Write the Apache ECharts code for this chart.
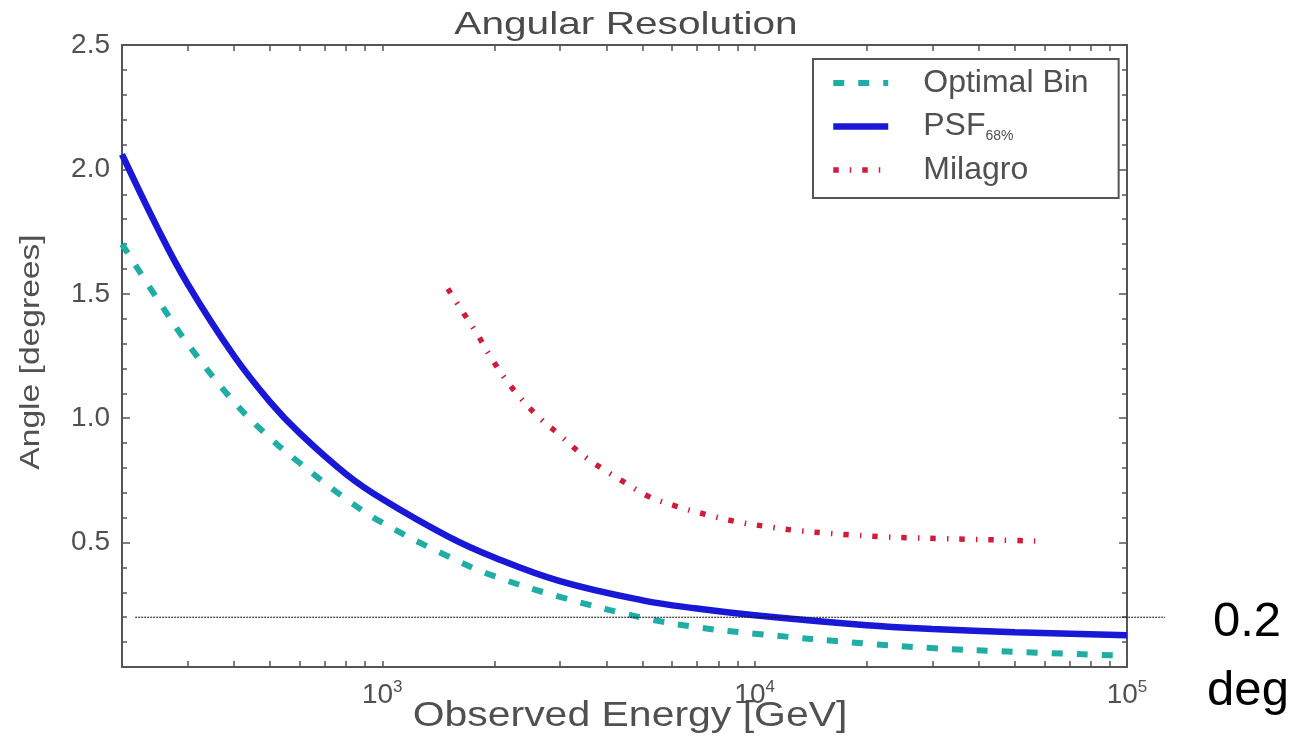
<!DOCTYPE html>
<html>
<head>
<meta charset="utf-8">
<title>Angular Resolution</title>
<script src="https://cdn.jsdelivr.net/npm/echarts@6/dist/echarts.min.js"></script>
<style>
  html, body { margin: 0; padding: 0; background: #fff; }
  #chart { width: 1291px; height: 751px; }
</style>
</head>
<body>
<div id="chart"></div>
<script>
// Energies in GeV and angular resolution in degrees
const binEnergy = [200, 250, 300, 400, 500, 600, 800, 1000, 1500, 2000, 3000, 5000, 7000, 10000, 20000, 30000, 50000, 100000];
const optimalBin = [1.70, 1.475, 1.30, 1.065, 0.92, 0.82, 0.675, 0.58, 0.445, 0.365, 0.282, 0.198, 0.16, 0.134, 0.094, 0.076, 0.061, 0.045];
const psf68 = [2.06, 1.76, 1.54, 1.25, 1.065, 0.94, 0.775, 0.675, 0.525, 0.44, 0.345, 0.268, 0.235, 0.208, 0.168, 0.153, 0.14, 0.128];

const milagroEnergy = [1500, 1650, 1800, 1950, 2130, 2340, 2650, 3000, 3400, 3900, 4500, 5200, 6200, 7400, 8800, 10600, 12700, 15300, 18500, 22200, 26700, 32000, 38700, 46500, 57000];
const milagro = [1.52, 1.424, 1.337, 1.249, 1.162, 1.085, 1.0, 0.932, 0.86, 0.797, 0.74, 0.685, 0.645, 0.613, 0.586, 0.566, 0.550, 0.539, 0.530, 0.523, 0.519, 0.516, 0.513, 0.510, 0.506];

// 0.2 degree reference level and the energy span it is drawn over
const refLevel = 0.2;
const refEnergy = [217, 126600];

// Log axis: labelled decades plus 2..9 minor positions
const xLabelValues = [1000, 10000, 100000];
const xTickValues = [200, 300, 400, 500, 600, 700, 800, 900,
  1000, 2000, 3000, 4000, 5000, 6000, 7000, 8000, 9000,
  10000, 20000, 30000, 40000, 50000, 60000, 70000, 80000, 90000, 100000];

const seriesNames = ['Optimal Bin', 'PSF68%', 'Milagro'];

const pairs = (xs, ys) => xs.map((x, i) => [x, ys[i]]);

const FONT = '"Liberation Sans", Arial, Helvetica, sans-serif';
const TEXT = '#505050';
const AXIS = '#555555';

const chart = echarts.init(document.getElementById('chart'), null, { renderer: 'canvas' });

function xAxisDef(pos, showLabel) {
  return {
    type: 'log', logBase: 10, min: 200, max: 100000, position: pos,
    axisLine: { show: true, onZero: false, lineStyle: { color: AXIS, width: 2 } },
    axisTick: { show: true, inside: true, length: 6, customValues: xTickValues, lineStyle: { color: AXIS, width: 1.5 } },
    minorTick: { show: false },
    splitLine: { show: false },
    axisLabel: {
      show: showLabel,
      customValues: xLabelValues,
      margin: 12,
      fontFamily: FONT,
      formatter: function (v) {
        return '{b|10}{e|' + Math.round(Math.log10(v)) + '}';
      },
      rich: {
        b: { fontFamily: FONT, fontSize: 28, color: TEXT, lineHeight: 30, verticalAlign: 'bottom' },
        e: { fontFamily: FONT, fontSize: 17, color: TEXT, lineHeight: 15, verticalAlign: 'top' }
      }
    }
  };
}

function yAxisDef(pos, showLabel) {
  return {
    type: 'value', min: 0, max: 2.5, interval: 0.5, position: pos,
    axisLine: { show: true, onZero: false, lineStyle: { color: AXIS, width: 2 } },
    axisTick: { show: true, inside: true, length: 8, lineStyle: { color: AXIS, width: 1.5 } },
    minorTick: { show: true, splitNumber: 5, length: 5, lineStyle: { color: AXIS, width: 1.5 } },
    splitLine: { show: false },
    axisLabel: {
      show: showLabel,
      margin: 12,
      fontFamily: FONT, fontSize: 28, color: TEXT,
      formatter: function (v) { return v === 0 ? '' : v.toFixed(1); }
    }
  };
}

const textGraphics = [
  { type: 'text', x: 626, y: 25, scaleX: 1.27, z: 10,
    style: { text: 'Angular Resolution', font: '32px ' + FONT, fill: '#4a4a4a', align: 'center', verticalAlign: 'middle' } },
  { type: 'text', x: 630, y: 716, scaleX: 1.17, z: 10,
    style: { text: 'Observed Energy [GeV]', font: '35px ' + FONT, fill: TEXT, align: 'center', verticalAlign: 'middle' } },
  { type: 'text', x: 31, y: 352, rotation: Math.PI / 2, scaleX: 1.2, z: 10,
    style: { text: 'Angle [degrees]', font: '28px ' + FONT, fill: TEXT, align: 'center', verticalAlign: 'middle' } },
  { type: 'text', x: 1247, y: 622, z: 10,
    style: { text: '0.2', font: '49px ' + FONT, fill: '#000000', align: 'center', verticalAlign: 'middle' } },
  { type: 'text', x: 1248, y: 691, z: 10,
    style: { text: 'deg', font: '49px ' + FONT, fill: '#000000', align: 'center', verticalAlign: 'middle' } }
];

const option = {
  backgroundColor: '#ffffff',
  animation: false,
  grid: { left: 122, top: 45, right: 164, bottom: 84, containLabel: false },
  xAxis: [xAxisDef('bottom', true), xAxisDef('top', false)],
  yAxis: [yAxisDef('left', true), yAxisDef('right', false)],
  legend: {
    data: seriesNames,
    orient: 'vertical',
    left: 813, top: 59,
    padding: [7, 30, 11, 17],
    itemWidth: 55, itemHeight: 14, itemGap: 9.5,
    backgroundColor: '#ffffff',
    borderColor: AXIS, borderWidth: 2, borderRadius: 0,
    itemStyle: { opacity: 0 },
    lineStyle: { width: 'inherit', type: 'inherit' },
    textStyle: { fontFamily: FONT, fontSize: 32, color: TEXT, lineHeight: 34, padding: [0, 0, 0, 30],
      rich: {
        m: { fontFamily: FONT, fontSize: 32, color: TEXT, lineHeight: 34 },
        s: { fontFamily: FONT, fontSize: 14, color: TEXT, lineHeight: 8, verticalAlign: 'bottom' }
      }
    },
    formatter: function (name) {
      return name === 'PSF68%' ? '{m|PSF}{s|68%}' : name;
    }
  },
  series: [
    {
      name: 'Optimal Bin', type: 'line', data: pairs(binEnergy, optimalBin),
      symbol: 'none', smooth: 0.4,
      lineStyle: { color: '#20ADA5', width: 6, type: [11, 14] },
      itemStyle: { color: '#20ADA5' }
    },
    {
      name: 'PSF68%', type: 'line', data: pairs(binEnergy, psf68),
      symbol: 'none', smooth: 0.4,
      lineStyle: { color: '#1818D6', width: 6.5, type: 'solid' },
      itemStyle: { color: '#1818D6' }
    },
    {
      name: 'Milagro', type: 'line', data: pairs(milagroEnergy, milagro),
      symbol: 'none', smooth: 0.4,
      lineStyle: { color: '#D01C3C', width: 5.5, type: [5.5, 11, 1.5, 11] },
      itemStyle: { color: '#D01C3C' }
    }
  ],
  graphic: textGraphics
};

chart.setOption(option);

// The 0.2 deg guide runs past the right frame, so it is placed from the
// axis scales (log decade width) rather than clipped inside the grid.
const yRef = chart.convertToPixel({ yAxisIndex: 0 }, refLevel);
const xDec4 = chart.convertToPixel({ xAxisIndex: 0 }, 10000);
const xDec5 = chart.convertToPixel({ xAxisIndex: 0 }, 100000);
const energyToX = e => xDec4 + (Math.log10(e) - 4) * (xDec5 - xDec4);

chart.setOption({
  graphic: textGraphics.concat([{
    type: 'line', z: 5, silent: true,
    shape: { x1: energyToX(refEnergy[0]), y1: yRef, x2: energyToX(refEnergy[1]), y2: yRef },
    style: { stroke: '#111111', lineWidth: 1, lineDash: [2, 1] }
  }])
});
</script>
</body>
</html>
